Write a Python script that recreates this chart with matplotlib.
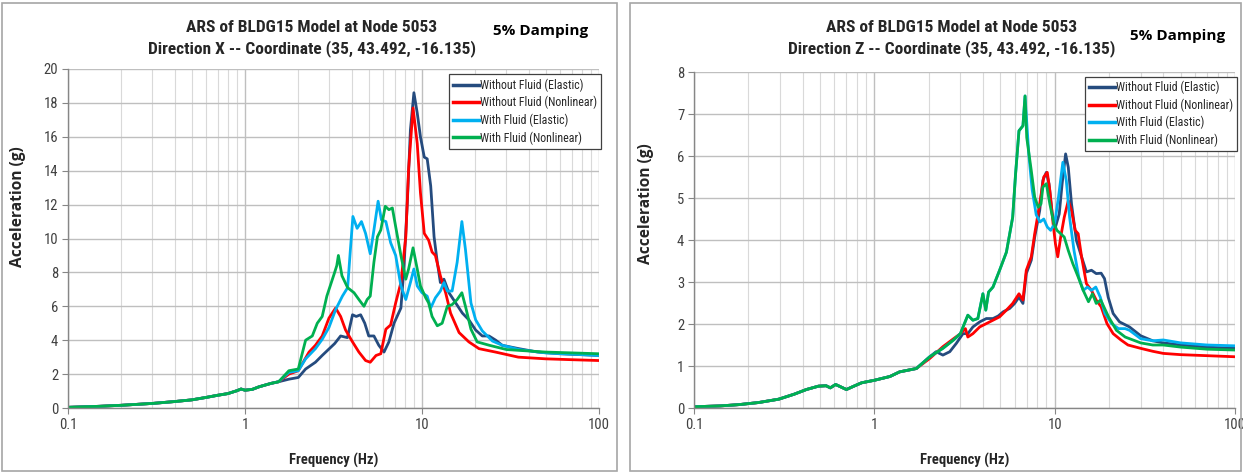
import numpy as np
import matplotlib
matplotlib.use('Agg')
import matplotlib.pyplot as plt
from matplotlib.patches import Rectangle
from matplotlib.ticker import FixedLocator, NullFormatter
import matplotlib.font_manager as fm

# ---------------- DATA ----------------
series_names = ["Without Fluid (Elastic)", "Without Fluid (Nonlinear)",
                "With Fluid (Elastic)", "With Fluid (Nonlinear)"]
series_colors = ["#254B7E", "#FF0000", "#00B0F0", "#00B050"]

# ---- Direction X (left) ----
x_low_f = [0.1, 0.15, 0.2, 0.3, 0.4, 0.5, 0.6, 0.7, 0.8, 0.9, 0.95, 1.0, 1.1, 1.2, 1.4, 1.55]
x_low_v = [0.04, 0.1, 0.16, 0.27, 0.38, 0.48, 0.62, 0.75, 0.85, 1.02, 1.12, 1.05, 1.1, 1.25, 1.45, 1.55]

x_el_f = [1.77, 2.0, 2.2, 2.5, 2.73, 3.21, 3.47, 3.79, 4.05, 4.25, 4.5, 4.75, 5.0, 5.35, 5.7, 6.1, 6.5,
          6.95, 7.6, 7.9, 8.26, 8.6, 9.0, 9.4, 9.8, 10.3, 10.7, 11.2, 11.7, 12.2, 12.7, 13.3, 14.2,
          15.5, 16.9, 18.4, 20.1, 21.9, 23.9, 26.1, 28.4, 35.3, 45, 60, 100]
x_el_v = [1.7, 1.8, 2.3, 2.7, 3.1, 3.8, 4.25, 4.15, 5.5, 5.4, 5.5, 5.0, 4.25, 4.25, 3.7, 3.3, 3.9,
          5.0, 5.9, 8.2, 12.1, 16.4, 18.6, 17.4, 16.0, 14.8, 14.7, 13.1, 10.1, 8.6, 7.4, 7.6, 6.8,
          6.2, 5.6, 5.2, 4.6, 4.25, 4.25, 4.0, 3.7, 3.5, 3.3, 3.2, 3.1]

x_nl_f = [1.77, 2.0, 2.3, 2.5, 2.73, 2.98, 3.25, 3.47, 3.7, 4.05, 4.4, 4.8, 5.1, 5.5, 5.85, 6.25,
          6.65, 7.1, 7.6, 8.1, 8.4, 8.9, 9.4, 9.8, 10.3, 10.9, 11.4, 11.9, 12.7, 13.6, 14.5, 16.2,
          18.4, 21.0, 26.0, 35.0, 50, 70, 100]
x_nl_v = [2.0, 2.2, 3.3, 3.7, 4.25, 5.3, 5.9, 5.4, 4.6, 3.9, 3.3, 2.8, 2.7, 3.1, 3.2, 4.65,
          4.9, 6.2, 7.4, 10.1, 14.1, 17.7, 15.6, 12.7, 10.3, 9.9, 9.2, 9.0, 7.8, 6.8, 5.6, 4.45,
          3.9, 3.5, 3.3, 3.0, 2.9, 2.85, 2.8]

x_wel_f = [1.77, 2.0, 2.2, 2.5, 2.73, 2.98, 3.25, 3.55, 3.8, 3.93, 4.07, 4.3, 4.55, 4.8, 5.1, 5.35,
           5.65, 5.9, 6.25, 6.65, 7.1, 7.6, 8.1, 8.6, 9.0, 9.4, 10.0, 10.7, 11.2, 11.9, 12.7, 13.3,
           13.9, 14.8, 15.8, 16.8, 17.6, 18.9, 20.1, 21.9, 25.0, 28.4, 35.3, 50, 100]
x_wel_v = [2.1, 2.2, 2.9, 3.5, 4.05, 4.75, 5.8, 6.6, 7.1, 9.2, 11.3, 10.6, 11.0, 10.3, 9.1, 10.5,
           12.2, 11.1, 11.0, 9.75, 9.0, 7.2, 6.4, 7.4, 8.2, 7.2, 6.8, 6.6, 5.9, 6.5, 6.9, 7.4,
           6.9, 6.9, 8.6, 11.0, 9.35, 6.2, 5.2, 4.55, 3.95, 3.7, 3.45, 3.25, 3.1]

x_wnl_f = [1.77, 2.0, 2.2, 2.4, 2.56, 2.73, 2.9, 3.21, 3.3, 3.37, 3.53, 3.8, 4.13, 4.4, 4.7, 4.9,
           5.1, 5.35, 5.6, 5.85, 6.2, 6.5, 6.8, 7.1, 7.6, 8.1, 8.4, 8.9, 9.4, 9.8, 10.5, 10.9, 11.4,
           12.2, 13.0, 13.9, 14.8, 15.8, 16.8, 17.6, 18.9, 20.5, 24.0, 30.0, 35.3, 50, 100]
x_wnl_v = [2.2, 2.3, 4.0, 4.25, 5.0, 5.4, 6.6, 8.0, 8.4, 9.0, 7.8, 7.1, 6.8, 6.4, 6.0, 6.4,
           6.6, 8.6, 10.1, 10.5, 11.9, 11.7, 11.8, 10.7, 9.0, 7.6, 8.2, 9.45, 8.2, 7.2, 6.5, 6.2, 5.4,
           4.85, 5.0, 6.0, 6.1, 6.4, 6.8, 6.0, 4.65, 3.9, 3.7, 3.45, 3.4, 3.3, 3.2]

# ---- Direction Z (right) ----
z_low_f = [0.1, 0.14, 0.177, 0.228, 0.295, 0.36, 0.42, 0.49, 0.54, 0.57, 0.61, 0.7, 0.77, 0.85,
           1.0, 1.22, 1.38]
z_low_v = [0.03, 0.05, 0.08, 0.13, 0.21, 0.33, 0.44, 0.52, 0.53, 0.48, 0.56, 0.44, 0.52, 0.6,
           0.66, 0.75, 0.86]

z_el_f = [1.71, 2.03, 2.2, 2.4, 2.62, 2.85, 3.1, 3.3, 3.52, 3.84, 4.18, 4.55, 4.86, 5.18, 5.63,
          6.0, 6.34, 6.67, 6.96, 7.42, 7.75, 8.26, 8.6, 8.99, 9.3, 9.7, 10.1, 10.6, 11.0, 11.5, 11.9,
          12.4, 13.2, 14.1, 15.0, 16.0, 17.0, 18.1, 18.9, 19.8, 21.1, 22.9, 26.0, 30.0, 35.0, 40.0,
          50.0, 70.0, 100.0]
z_el_v = [0.94, 1.22, 1.34, 1.26, 1.34, 1.54, 1.77, 1.77, 1.93, 2.05, 2.13, 2.13, 2.19, 2.29, 2.37,
          2.49, 2.64, 2.49, 3.2, 3.52, 4.07, 4.7, 5.42, 5.61, 5.34, 4.62, 4.31, 4.62, 5.34, 6.05, 5.73,
          4.86, 3.99, 3.6, 3.24, 3.28, 3.2, 3.21, 3.08, 2.64, 2.25, 2.05, 1.93, 1.72, 1.6, 1.55,
          1.5, 1.45, 1.42]

z_nl_f = [1.71, 2.03, 2.4, 2.75, 3.0, 3.2, 3.3, 3.52, 3.84, 4.18, 4.55, 4.95, 5.4, 5.85, 6.34,
          6.67, 6.96, 7.42, 7.75, 8.26, 8.7, 9.1, 9.4, 9.8, 10.1, 10.4, 10.8, 11.3, 11.9, 12.4,
          13.0, 13.5, 14.1, 15.0, 16.0, 17.0, 18.1, 19.5, 21.1, 23.3, 25.5, 30.0, 35.0, 40.0,
          50.0, 100.0]
z_nl_v = [0.94, 1.18, 1.46, 1.65, 1.77, 1.89, 1.69, 1.77, 1.93, 2.01, 2.09, 2.17, 2.33, 2.49, 2.72,
          2.57, 3.28, 3.6, 4.15, 4.86, 5.5, 5.61, 5.18, 4.39, 3.91, 3.6, 4.07, 4.54, 4.94, 4.7,
          4.23, 4.15, 3.6, 2.96, 2.8, 2.57, 2.41, 2.01, 1.77, 1.62, 1.5, 1.42, 1.35, 1.3,
          1.27, 1.22]

z_wel_f = [1.71, 2.03, 2.4, 2.75, 3.0, 3.3, 3.52, 3.75, 4.0, 4.15, 4.3, 4.55, 4.95, 5.4, 5.85,
           6.07, 6.34, 6.67, 6.85, 7.0, 7.2, 7.5, 7.9, 8.3, 8.7, 9.1, 9.5, 10.0, 10.5, 11.1, 11.6,
           12.1, 12.8, 13.6, 14.4, 15.2, 16.0, 16.9, 17.9, 19.0, 20.7, 22.6, 24.6, 26.0, 30.0,
           35.0, 40.0, 50.0, 70.0, 100.0]
z_wel_v = [0.94, 1.22, 1.42, 1.62, 1.77, 2.21, 2.09, 2.13, 2.72, 2.33, 2.76, 2.88, 3.28, 3.71, 4.54,
           5.57, 6.6, 6.72, 7.43, 6.8, 6.0, 5.2, 4.6, 4.43, 4.5, 4.31, 4.23, 4.39, 5.02, 5.85, 5.42,
           4.54, 3.75, 3.12, 2.8, 2.88, 2.8, 2.88, 2.64, 2.25, 2.01, 1.89, 1.89, 1.85, 1.65,
           1.6, 1.62, 1.55, 1.5, 1.48]

z_wnl_f = [1.71, 2.03, 2.4, 2.75, 3.0, 3.3, 3.52, 3.75, 4.0, 4.15, 4.3, 4.55, 4.95, 5.4, 5.85,
           6.07, 6.34, 6.67, 6.85, 7.0, 7.42, 7.75, 8.1, 8.4, 8.6, 8.99, 9.4, 9.9, 10.3, 10.8,
           11.3, 11.9, 12.6, 13.5, 14.4, 15.4, 16.2, 17.0, 18.0, 19.9, 22.0, 24.6, 30.0, 35.0,
           40.0, 50.0, 70.0, 100.0]
z_wnl_v = [0.94, 1.22, 1.42, 1.62, 1.77, 2.21, 2.09, 2.13, 2.72, 2.33, 2.76, 2.88, 3.28, 3.71, 4.54,
           5.57, 6.6, 6.72, 7.43, 6.44, 5.65, 5.02, 4.78, 4.86, 5.26, 5.34, 4.86, 4.39, 4.23, 4.15,
           4.07, 3.75, 3.44, 3.12, 2.8, 2.53, 2.72, 2.49, 2.57, 2.17, 1.85, 1.69, 1.55, 1.5,
           1.5, 1.45, 1.4, 1.38]

x_yticks = [0, 2, 4, 6, 8, 10, 12, 14, 16, 18, 20]
z_yticks = [0, 1, 2, 3, 4, 5, 6, 7, 8]
x_ticks = [0.1, 1, 10, 100]
x_ticklabels = ["0.1", "1", "10", "100"]

title_line1 = "ARS of BLDG15 Model at Node 5053"
title_x = "Direction X -- Coordinate (35, 43.492, -16.135)"
title_z = "Direction Z -- Coordinate (35, 43.492, -16.135)"
damping_text = "5% Damping"
xlabel = "Frequency (Hz)"
ylabel = "Acceleration (g)"

# ---------------- FONTS ----------------
avail = {f.name for f in fm.fontManager.ttflist}
narrow = [f for f in ["Liberation Sans Narrow", "DejaVu Sans Condensed", "Roboto Condensed"] if f in avail]
NARROW = narrow + ["Liberation Sans", "DejaVu Sans"]
BOLDF = ["Open Sans", "DejaVu Sans"]

# ---------------- FIGURE ----------------
W, H = 1243, 472
fig = plt.figure(figsize=(W / 100, H / 100), dpi=100)


def px_axes(x0, y0, x1, y1):
    return fig.add_axes([x0 / W, 1 - y1 / H, (x1 - x0) / W, (y1 - y0) / H])


# panel frames
for (a, b, c, d) in [(2, 3, 617, 471), (630, 3, 1241, 471)]:
    fig.patches.append(Rectangle((a / W, 1 - d / H), (c - a) / W, (d - b) / H,
                                 transform=fig.transFigure, fill=False,
                                 edgecolor="#A6A6A6", linewidth=1.2))


def make_panel(rect, low_f, low_v, series, ymax, yticks, title2, legend_rect,
               title_cx, damp_xy, ylab_xy, xlab_y):
    ax = px_axes(*rect)
    for (f, v), name, col in zip(series, series_names, series_colors):
        ff = list(low_f) + list(f)
        vv = list(low_v) + list(v)
        ax.plot(ff, vv, color=col, lw=2.0, label=name, solid_joinstyle="round")
    ax.set_xscale("log")
    ax.set_xlim(0.1, 100)
    ax.set_ylim(0, ymax)
    ax.xaxis.set_major_locator(FixedLocator(x_ticks))
    ax.set_xticklabels(x_ticklabels)
    minors = [m * 10.0 ** e for e in (-1, 0, 1) for m in range(2, 10)]
    ax.xaxis.set_minor_locator(FixedLocator(minors))
    ax.xaxis.set_minor_formatter(NullFormatter())
    ax.set_yticks(yticks)
    ax.grid(True, which="major", color="#BFBFBF", lw=1.0)
    ax.grid(True, which="minor", axis="x", color="#D9D9D9", lw=0.8)
    ax.set_axisbelow(True)
    for s in ["top", "right"]:
        ax.spines[s].set_visible(False)
    for s in ["left", "bottom"]:
        ax.spines[s].set_color("#868686")
        ax.spines[s].set_linewidth(1.0)
    ax.tick_params(which="major", length=4, width=0.8, color="#868686",
                   labelsize=10.5, labelcolor="#404040", pad=3)
    ax.tick_params(which="minor", length=0)
    for lab in ax.get_xticklabels() + ax.get_yticklabels():
        lab.set_family(NARROW)
    # titles
    fig.text(title_cx / W, 1 - 28 / H, title_line1, ha="center", va="center",
             fontsize=12.5, fontweight="bold", family=NARROW, color="#262626")
    fig.text(title_cx / W, 1 - 49 / H, title2, ha="center", va="center",
             fontsize=12.5, fontweight="bold", family=NARROW, color="#262626")
    fig.text(damp_xy[0] / W, 1 - damp_xy[1] / H, damping_text, ha="center", va="center",
             fontsize=11, fontweight="bold", family=BOLDF, color="#000000")
    fig.text(ylab_xy[0] / W, 1 - ylab_xy[1] / H, ylabel, rotation=90,
             ha="center", va="center", fontsize=11.2, fontweight="bold",
             family=BOLDF, color="#262626")
    fig.text((rect[0] + rect[2]) / 2 / W, 1 - xlab_y / H, xlabel, ha="center", va="center",
             fontsize=10.5, fontweight="bold", family=NARROW, color="#262626")
    # legend
    lx0, ly0, lx1, ly1 = legend_rect
    bb = (lx0 / W, 1 - ly1 / H, (lx1 - lx0) / W, (ly1 - ly0) / H)
    leg = ax.legend(loc="center", bbox_to_anchor=bb, bbox_transform=fig.transFigure,
                    frameon=True, fancybox=False, framealpha=1, edgecolor="#404040",
                    prop=fm.FontProperties(family=NARROW, size=8.6),
                    handlelength=2.2, handletextpad=0.1, borderpad=0.35,
                    labelspacing=0.35, borderaxespad=0)
    leg.get_frame().set_linewidth(0.9)
    for t in leg.get_texts():
        t.set_color("#262626")
    for h in leg.legend_handles:
        h.set_linewidth(2.5)
    return ax


make_panel((68, 69, 599, 408), x_low_f, x_low_v,
           [(x_el_f, x_el_v), (x_nl_f, x_nl_v), (x_wel_f, x_wel_v), (x_wnl_f, x_wnl_v)],
           20, x_yticks, title_x, (455, 76, 595, 147), 312, (541, 31), (18, 207), 460)

make_panel((694, 72, 1235, 408), z_low_f, z_low_v,
           [(z_el_f, z_el_v), (z_nl_f, z_nl_v), (z_wel_f, z_wel_v), (z_wnl_f, z_wnl_v)],
           8, z_yticks, title_z, (1090, 78, 1232, 150), 952, (1178, 36), (646, 204), 460)

fig.savefig("out.png", dpi=100)
